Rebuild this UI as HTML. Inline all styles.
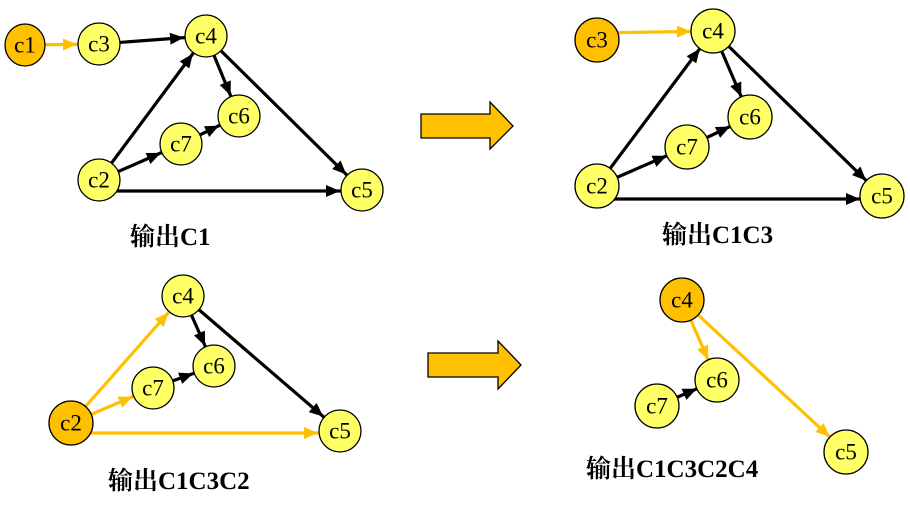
<!DOCTYPE html>
<html><head><meta charset="utf-8"><style>
html,body{margin:0;padding:0;background:#fff;width:910px;height:506px;overflow:hidden}
svg text.n{font-family:"Liberation Serif",serif;font-size:23px;text-anchor:middle;dominant-baseline:central}
svg text.l{font-family:"Liberation Serif","Noto Serif CJK SC",serif;font-size:25px;font-weight:bold}
</style></head><body>
<svg width="910" height="506" viewBox="0 0 910 506" xmlns="http://www.w3.org/2000/svg">
<defs>
<marker id="b" markerUnits="userSpaceOnUse" markerWidth="50" markerHeight="14" refX="36" refY="6" orient="auto" overflow="visible"><path d="M0,0 L14,6 L0,12 z" fill="#000"/></marker>
<marker id="o" markerUnits="userSpaceOnUse" markerWidth="50" markerHeight="14" refX="36" refY="6" orient="auto" overflow="visible"><path d="M0,0 L14,6 L0,12 z" fill="#FFC000"/></marker>
</defs>
<g stroke-width="3.2">
<line x1="25" y1="45" x2="99" y2="44" stroke="#FFC000" marker-end="url(#o)"/>
<line x1="99" y1="44" x2="206" y2="36" stroke="#000" marker-end="url(#b)"/>
<line x1="206" y1="36" x2="239" y2="116" stroke="#000" marker-end="url(#b)"/>
<line x1="206" y1="36" x2="362" y2="190" stroke="#000" marker-end="url(#b)"/>
<line x1="99" y1="180" x2="206" y2="36" stroke="#000" marker-end="url(#b)"/>
<line x1="99" y1="180" x2="181" y2="144" stroke="#000" marker-end="url(#b)"/>
<line x1="181" y1="144" x2="239" y2="116" stroke="#000" marker-end="url(#b)"/>
<line x1="99" y1="191" x2="362" y2="191" stroke="#000" marker-end="url(#b)"/>

<line x1="597" y1="33" x2="713" y2="31" stroke="#FFC000" marker-end="url(#o)"/>
<line x1="713" y1="31" x2="750" y2="117" stroke="#000" marker-end="url(#b)"/>
<line x1="713" y1="31" x2="882" y2="196" stroke="#000" marker-end="url(#b)"/>
<line x1="597" y1="186" x2="713" y2="31" stroke="#000" marker-end="url(#b)"/>
<line x1="597" y1="186" x2="687" y2="147" stroke="#000" marker-end="url(#b)"/>
<line x1="687" y1="147" x2="750" y2="117" stroke="#000" marker-end="url(#b)"/>
<line x1="597" y1="199" x2="882" y2="199" stroke="#000" marker-end="url(#b)"/>

<line x1="183" y1="296" x2="214" y2="366" stroke="#000" marker-end="url(#b)"/>
<line x1="183" y1="296" x2="340" y2="431" stroke="#000" marker-end="url(#b)"/>
<line x1="71" y1="423" x2="183" y2="296" stroke="#FFC000" marker-end="url(#o)"/>
<line x1="71" y1="423" x2="153" y2="388" stroke="#FFC000" marker-end="url(#o)"/>
<line x1="153" y1="388" x2="214" y2="366" stroke="#000" marker-end="url(#b)"/>
<line x1="71" y1="433" x2="340" y2="433" stroke="#FFC000" marker-end="url(#o)"/>

<line x1="682" y1="300" x2="717" y2="380" stroke="#FFC000" marker-end="url(#o)"/>
<line x1="682" y1="300" x2="846" y2="452" stroke="#FFC000" marker-end="url(#o)"/>
<line x1="657" y1="406" x2="717" y2="380" stroke="#000" marker-end="url(#b)"/>
</g>
<g stroke="#000" stroke-width="1.3">
<ellipse cx="25" cy="45" rx="20" ry="21" fill="#FFC000"/>
<circle cx="99" cy="44" r="21" fill="#FFFF66"/>
<circle cx="206" cy="36" r="21" fill="#FFFF66"/>
<circle cx="239" cy="116" r="21" fill="#FFFF66"/>
<circle cx="181" cy="144" r="21" fill="#FFFF66"/>
<circle cx="99" cy="180" r="21" fill="#FFFF66"/>
<circle cx="362" cy="190" r="21" fill="#FFFF66"/>

<circle cx="597" cy="40" r="22" fill="#FFC000"/>
<circle cx="713" cy="31" r="22" fill="#FFFF66"/>
<circle cx="750" cy="117" r="22" fill="#FFFF66"/>
<circle cx="687" cy="147" r="22" fill="#FFFF66"/>
<circle cx="597" cy="186" r="22" fill="#FFFF66"/>
<circle cx="882" cy="196" r="22" fill="#FFFF66"/>

<circle cx="183" cy="296" r="21" fill="#FFFF66"/>
<circle cx="214" cy="366" r="21" fill="#FFFF66"/>
<circle cx="153" cy="388" r="21" fill="#FFFF66"/>
<circle cx="71" cy="423" r="22" fill="#FFC000"/>
<circle cx="340" cy="431" r="21" fill="#FFFF66"/>

<circle cx="682" cy="300" r="22" fill="#FFC000"/>
<circle cx="717" cy="380" r="22" fill="#FFFF66"/>
<circle cx="657" cy="406" r="22" fill="#FFFF66"/>
<circle cx="846" cy="452" r="22" fill="#FFFF66"/>
</g>
<g>
<text class="n" x="25" y="45">c1</text><text class="n" x="99" y="44">c3</text><text class="n" x="206" y="36">c4</text>
<text class="n" x="239" y="116">c6</text><text class="n" x="181" y="144">c7</text><text class="n" x="99" y="180">c2</text><text class="n" x="362" y="190">c5</text>
<text class="n" x="597" y="40">c3</text><text class="n" x="713" y="31">c4</text><text class="n" x="750" y="117">c6</text>
<text class="n" x="687" y="147">c7</text><text class="n" x="597" y="186">c2</text><text class="n" x="882" y="196">c5</text>
<text class="n" x="183" y="296">c4</text><text class="n" x="214" y="366">c6</text><text class="n" x="153" y="388">c7</text>
<text class="n" x="71" y="423">c2</text><text class="n" x="340" y="431">c5</text>
<text class="n" x="682" y="300">c4</text><text class="n" x="717" y="380">c6</text><text class="n" x="657" y="406">c7</text><text class="n" x="846" y="452">c5</text>
</g>
<text class="l" x="130" y="245">输出C1</text>
<text class="l" x="662" y="243">输出C1C3</text>
<text class="l" x="108" y="489">输出C1C3C2</text>
<text class="l" x="586" y="477">输出C1C3C2C4</text>
<path d="M421,114 H490 V102 L513,126 L490,149 V138 H421 Z" fill="#FFC000" stroke="#000" stroke-width="1.3"/>
<path d="M428,353 H498 V341 L521,365 L498,389 V377 H428 Z" fill="#FFC000" stroke="#000" stroke-width="1.3"/>
</svg>
</body></html>
